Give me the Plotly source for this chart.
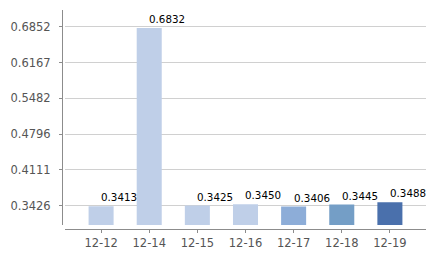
import plotly.graph_objects as go

categories = ["12-12", "12-14", "12-15", "12-16", "12-17", "12-18", "12-19"]
values = [0.3413, 0.6832, 0.3425, 0.3450, 0.3406, 0.3445, 0.3488]
labels = ["0.3413", "0.6832", "0.3425", "0.3450", "0.3406", "0.3445", "0.3488"]
colors = ["#BFCFE8", "#BFCFE8", "#BFCFE8", "#BFCFE8", "#8DADD8", "#749EC6", "#4A70AC"]
y_ticks = [0.3426, 0.4111, 0.4796, 0.5482, 0.6167, 0.6852]
y_tick_text = ["0.3426", "0.4111", "0.4796", "0.5482", "0.6167", "0.6852"]

W, H = 438, 260
ML, MR, MT, MB = 61, 12, 10, 26
plot_w = W - ML - MR
plot_h = H - MT - MB

font = "DejaVu Sans"

fig = go.Figure()
fig.add_trace(go.Bar(
    x=categories, y=values,
    marker=dict(color=colors, line=dict(width=0)),
    width=0.52,
    hoverinfo="skip",
))

for c, v, t in zip(categories, values, labels):
    fig.add_annotation(
        x=c, y=v, text=t, showarrow=False,
        xanchor="left", yanchor="bottom", xshift=-2, yshift=1,
        font=dict(family=font, size=10.3, color="#000000"),
    )

fig.update_layout(
    width=W, height=H,
    margin=dict(l=ML, r=MR, t=MT, b=MB, pad=0),
    paper_bgcolor="white", plot_bgcolor="white",
    showlegend=False,
    bargap=0.48,
    xaxis=dict(
        type="category",
        domain=[3 / plot_w, 1],
        anchor="free", position=0,
        range=[-0.75, 6.75],
        showline=True, linecolor="#8c8c8c", linewidth=1,
        ticks="outside", ticklen=3, tickcolor="#8c8c8c", tickwidth=1,
        showgrid=False, zeroline=False,
        tickfont=dict(family=font, size=11.5, color="#555555"),
    ),
    yaxis=dict(
        domain=[4 / plot_h, 1],
        anchor="free", position=0,
        range=[0.3051, 0.7176],
        tickvals=y_ticks, ticktext=y_tick_text,
        showline=True, linecolor="#8c8c8c", linewidth=1,
        ticks="outside", ticklen=3, tickcolor="#8c8c8c", tickwidth=1,
        showgrid=True, gridcolor="#d0d0d0", gridwidth=1,
        zeroline=False,
        ticklabelstandoff=6,
        tickfont=dict(family=font, size=11.5, color="#555555"),
    ),
)

fig.write_html("out.html")
